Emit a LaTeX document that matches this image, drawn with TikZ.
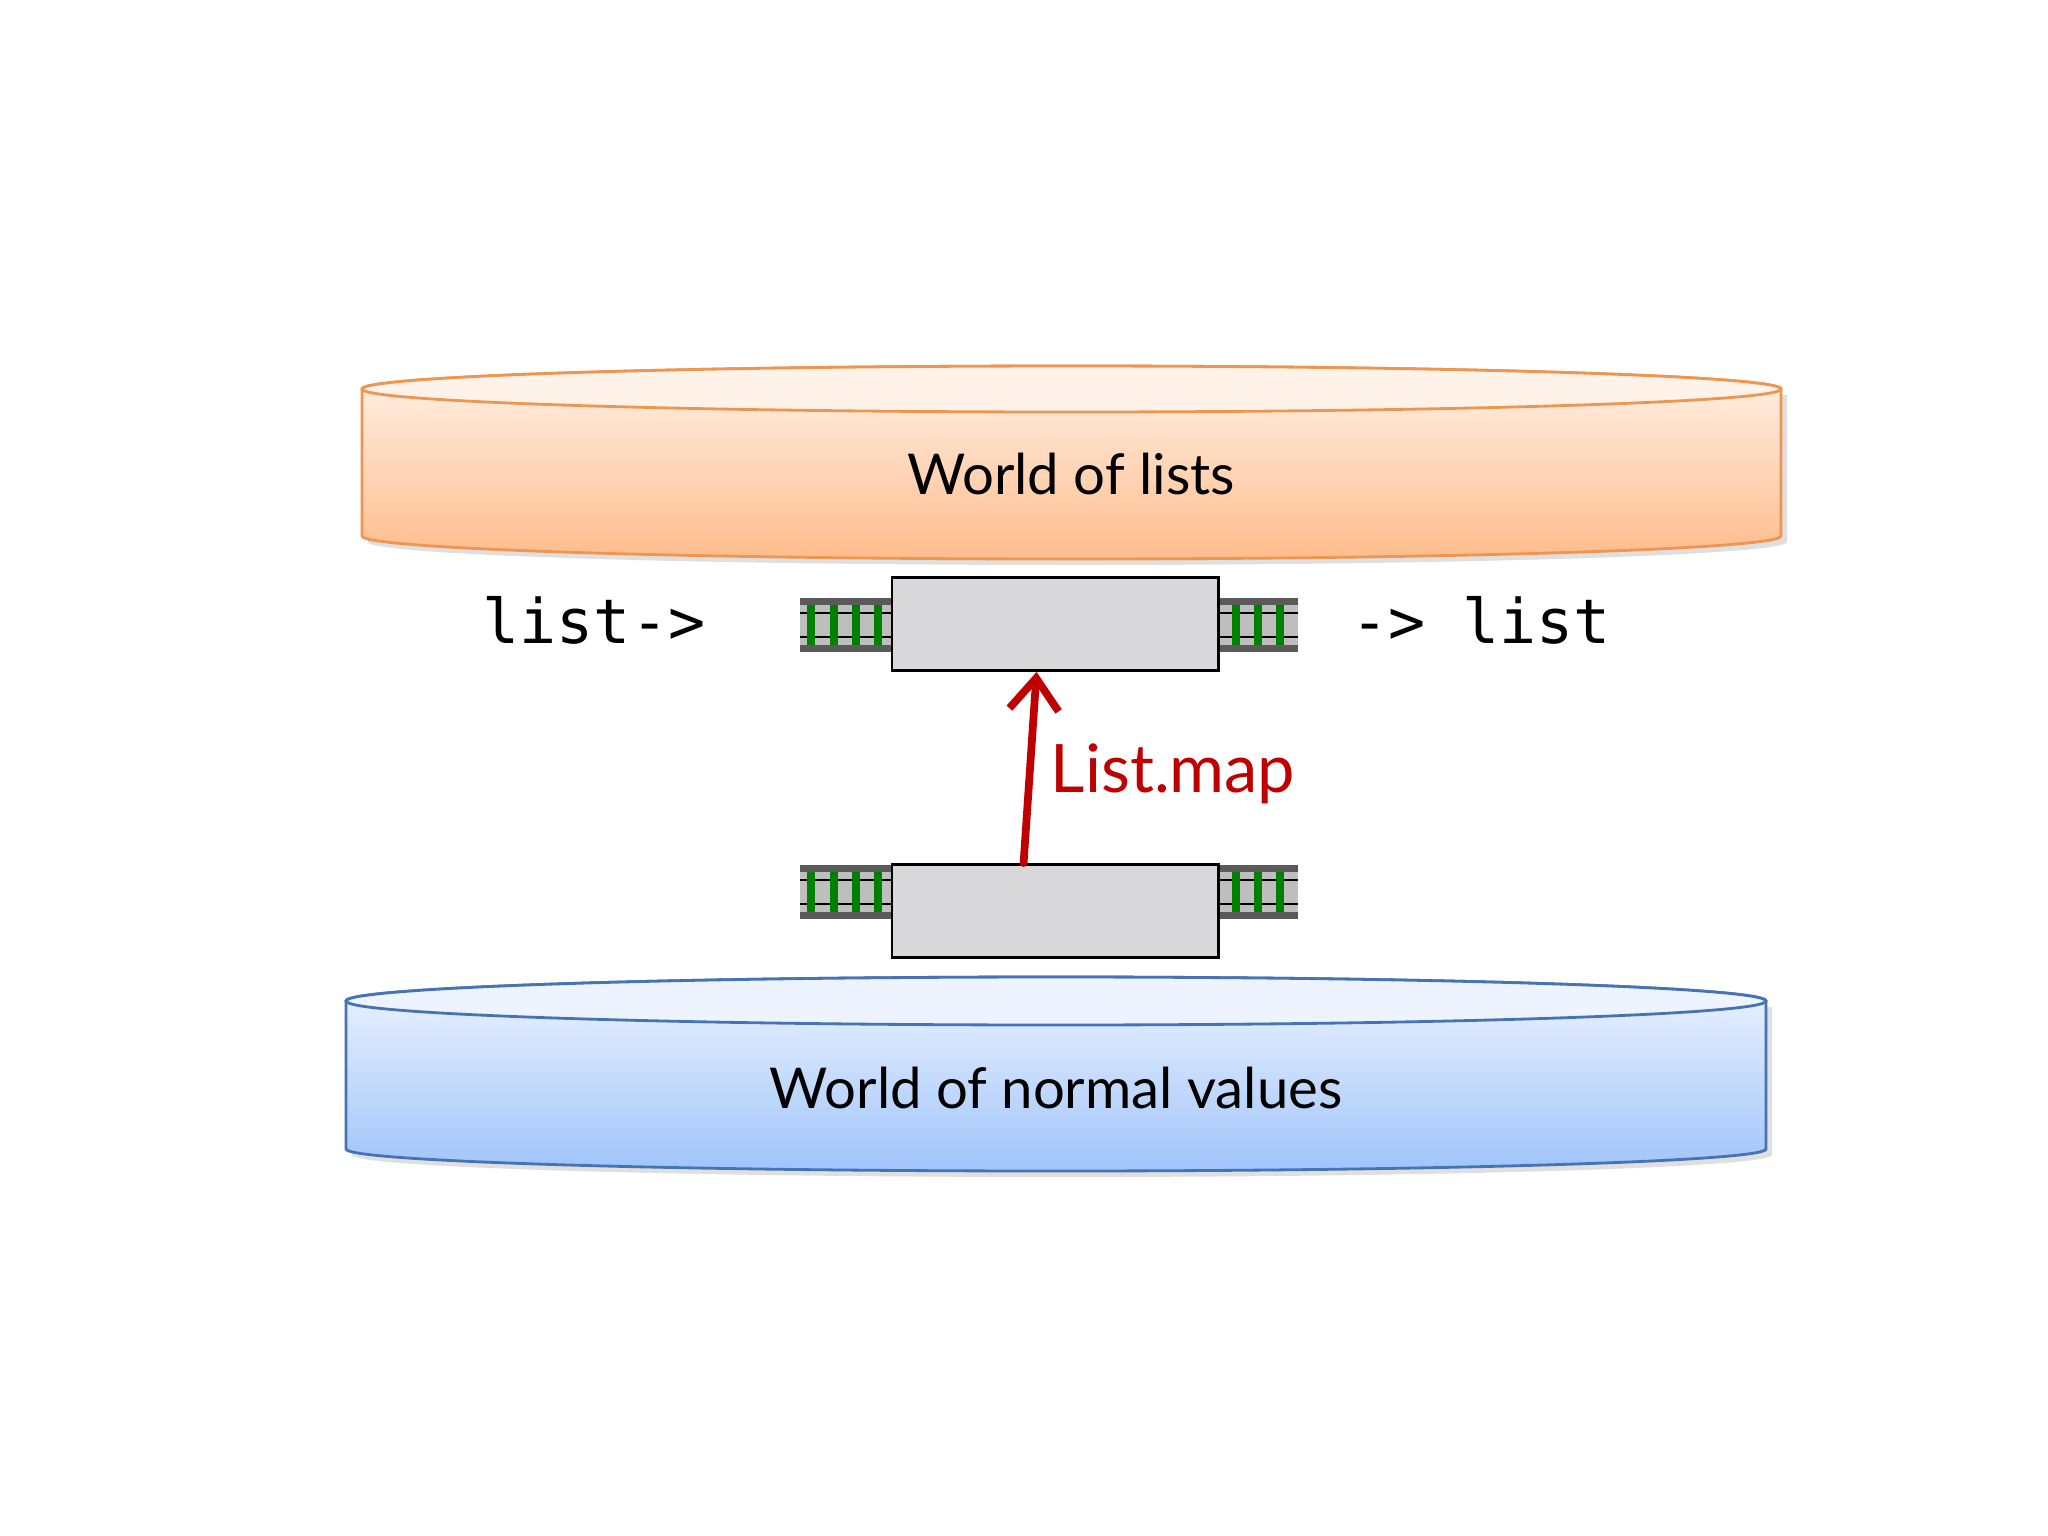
\documentclass[tikz,border=0pt]{standalone}
\usepackage{fontspec}
\usetikzlibrary{arrows.meta}
\setmainfont{Lato}
\setmonofont{DejaVu Sans Mono}
\definecolor{orEdge}{RGB}{238,150,80}
\definecolor{orTop}{RGB}{255,242,232}
\definecolor{orBot}{RGB}{255,188,140}
\definecolor{blEdge}{RGB}{70,115,180}
\definecolor{blTop}{RGB}{238,244,255}
\definecolor{blBot}{RGB}{160,196,250}
\definecolor{boxgray}{RGB}{216,215,218}
\definecolor{rail}{RGB}{90,90,90}
\definecolor{tie}{RGB}{190,190,190}
\definecolor{grn}{RGB}{0,128,0}
\definecolor{arrred}{RGB}{192,0,0}
\tikzset{
  fnbox/.style={draw=black, line width=0.8pt, fill=boxgray, minimum width=3.26cm, minimum height=0.93cm, inner sep=0pt},
  worldtxt/.style={font=\fontsize{16}{18}\selectfont},
  sigtxt/.style={font=\ttfamily\fontsize{17.5}{20}\selectfont},
}
\begin{document}
\begin{tikzpicture}[x=0.01cm,y=-0.01cm]
\useasboundingbox (0,0) rectangle (2048,1536);
\fill[white] (0,0) rectangle (2048,1536);
% top cylinder
\fill[gray!25] (368,395) -- (368,542) arc[start angle=180,end angle=0,x radius=709.5,y radius=23] -- (1787,395) -- cycle;
\shade[top color=orTop,bottom color=orBot,draw=orEdge,line width=0.8pt] (362,389) -- (362,536) arc[start angle=180,end angle=0,x radius=709.5,y radius=23] -- (1781,389) arc[start angle=0,end angle=-180,x radius=709.5,y radius=23] -- cycle;
\draw[orEdge,line width=0.8pt,fill=orTop] (1071.5,389) ellipse[x radius=709.5,y radius=23];
\node[worldtxt] (lists) at (1071,474) {World of lists};
% bottom cylinder
\fill[gray!25] (352,1007) -- (352,1155) arc[start angle=180,end angle=0,x radius=710,y radius=22] -- (1772,1007) -- cycle;
\shade[top color=blTop,bottom color=blBot,draw=blEdge,line width=0.8pt] (346,1001) -- (346,1149) arc[start angle=180,end angle=0,x radius=710,y radius=22] -- (1766,1001) arc[start angle=0,end angle=-180,x radius=710,y radius=24] -- cycle;
\draw[blEdge,line width=0.8pt,fill=blTop] (1056,1001) ellipse[x radius=710,y radius=24];
\node[worldtxt] (normal) at (1056,1088) {World of normal values};
% stubs
\foreach \yy in {598,865}{
  \foreach \xa/\xb in {800/892,1218/1298}{
    \fill[tie] (\xa,\yy) rectangle (\xb,\yy+54);
    \fill[rail] (\xa,\yy) rectangle (\xb,\yy+7);
    \fill[rail] (\xa,\yy+47) rectangle (\xb,\yy+54);
    \draw[black,line width=0.6pt] (\xa,\yy+15) -- (\xb,\yy+15) (\xa,\yy+39) -- (\xb,\yy+39);
  }
  \foreach \gx in {807,830,852,874,1232,1254,1276}{
    \fill[grn] (\gx,\yy+7) rectangle (\gx+8,\yy+47);
  }
}
\node[fnbox] (upbox) at (1055,624) {};
\node[fnbox] (lowbox) at (1055,911) {};
\coordinate (arrS) at ([xshift=1.33cm]lowbox.north west);
\coordinate (arrE) at ([xshift=1.46cm]upbox.south west);
\draw[arrred,line width=2.2pt,line cap=round,-{Straight Barb[length=9pt,width=14pt,line width=2.2pt]}] (arrS) -- (arrE);
\node[text=arrred,font=\fontsize{19}{22}\selectfont] (map) at (1173,774) {List.map};
\node[sigtxt] (in) at (594,620) {list->};
\node[sigtxt] (out) at (1481,620) {-> list};
\end{tikzpicture}
\end{document}
